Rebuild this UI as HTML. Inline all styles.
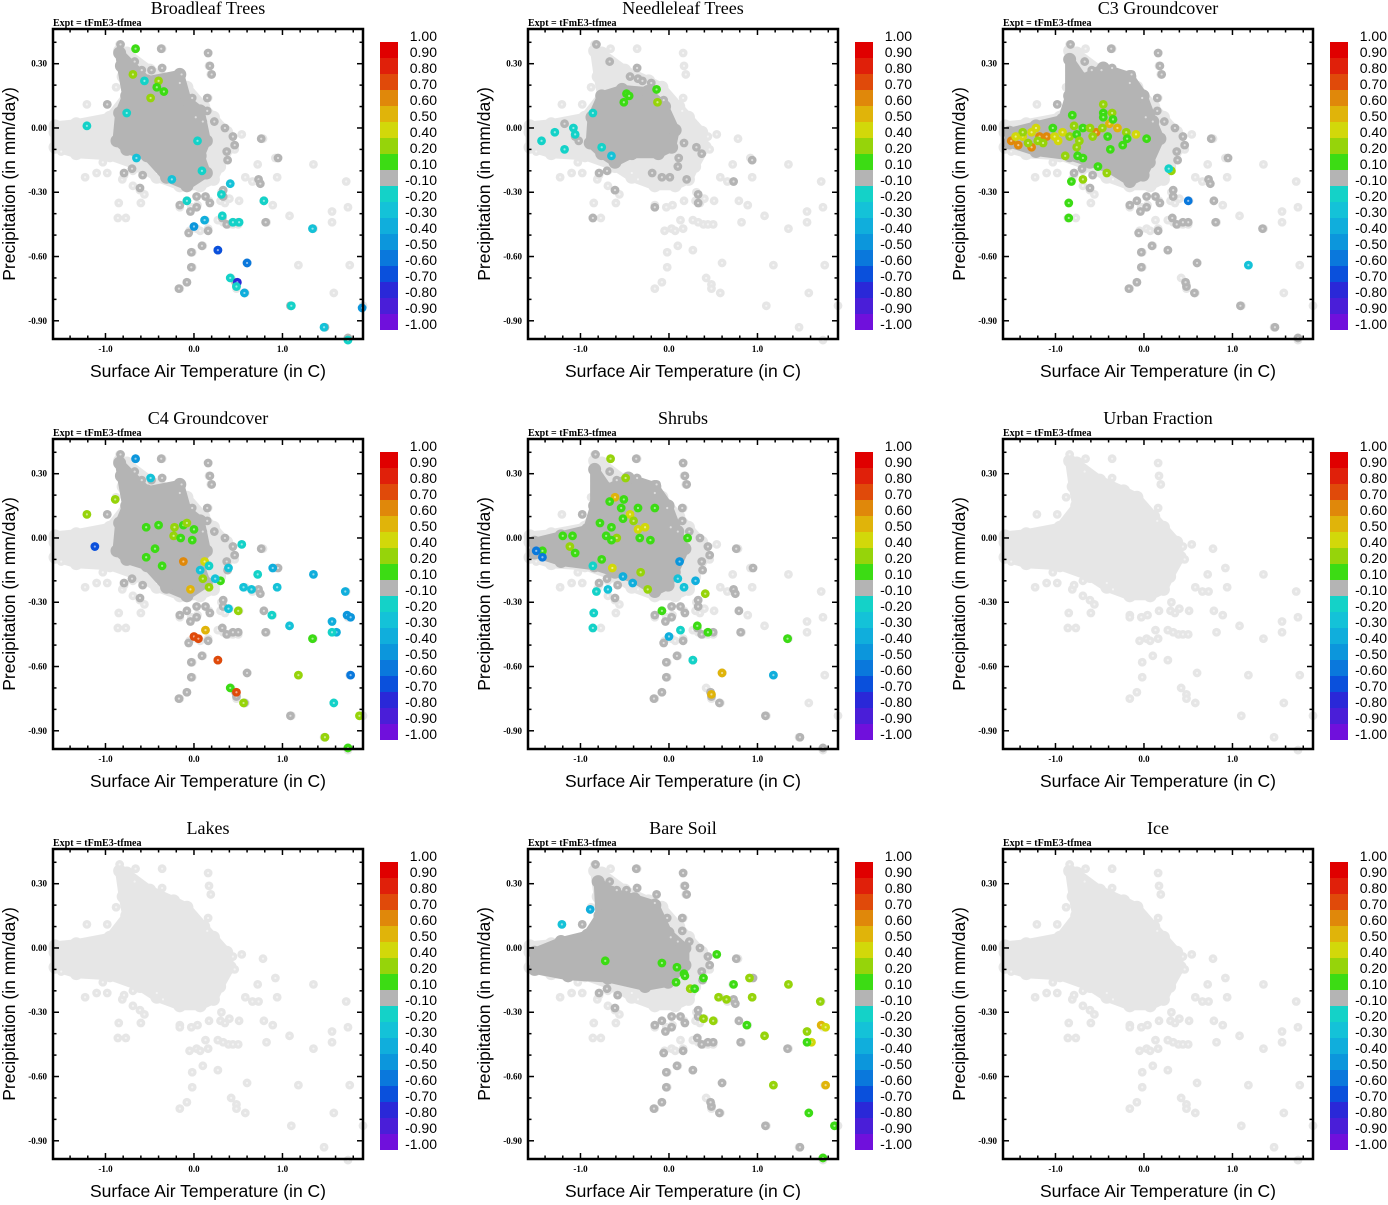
<!DOCTYPE html>
<html><head><meta charset="utf-8"><style>
html,body{margin:0;padding:0;background:#fff;}
svg text{font-family:"Liberation Sans",sans-serif;}
.serif{font-family:"Liberation Serif",serif !important;}
</style></head><body>
<svg id="fig" width="1388" height="1200" viewBox="0 0 1388 1200" xmlns="http://www.w3.org/2000/svg"></svg>
<script>
// ---------- DATA ----------
const titles = ["Broadleaf Trees","Needleleaf Trees","C3 Groundcover","C4 Groundcover","Shrubs","Urban Fraction","Lakes","Bare Soil","Ice"];
const xTicks = [-1.0, 0.0, 1.0];
const xTickLabels = ["-1.0","0.0","1.0"];
const yTicks = [0.30, 0.00, -0.30, -0.60, -0.90];
const yTickLabels = ["0.30","0.00","-0.30","-0.60","-0.90"];
const cbLevels = [1.00,0.90,0.80,0.70,0.60,0.50,0.40,0.20,0.10,-0.10,-0.20,-0.30,-0.40,-0.50,-0.60,-0.70,-0.80,-0.90,-1.00];
const cbLabels = ["1.00","0.90","0.80","0.70","0.60","0.50","0.40","0.20","0.10","-0.10","-0.20","-0.30","-0.40","-0.50","-0.60","-0.70","-0.80","-0.90","-1.00"];
const cbColors = ["#e00000","#e0200a","#e04a0a","#e0880a","#e0b40a","#d2d80a","#96d40a","#3cdc14","#b4b4b4","#14d2c8","#14c2d8","#10aedc","#0c96dc","#0a78dc","#0a50dc","#2a28d8","#4a1ed8","#7010dc"];

// light cloud (all points)
const lightCore = [[-1.57,-0.02],[-1.57,-0.09],[-1.33,-0.12],[-0.95,-0.13],[-0.61,-0.18],[-0.42,-0.23],[-0.16,-0.27],[0.07,-0.27],[0.22,-0.24],[0.29,-0.18],[0.41,-0.09],[0.37,-0.02],[0.22,0.05],[0.11,0.10],[-0.08,0.19],[-0.23,0.22],[-0.50,0.27],[-0.76,0.35],[-0.84,0.36],[-0.80,0.24],[-0.76,0.15],[-0.95,0.05],[-1.33,0.02],[-1.57,0.01]];
const lightX = [-0.84,-0.66,-0.36,-0.67,-0.36,0.16,0.17,0.19,0.16,0.15,-0.88,-1.21,-0.98,0.78,0.54,0.44,0.46,0.72,0.92,0.94,1.35,1.72,1.74,1.56,1.56,1.08,1.35,0.82,0.79,0.89,0.51,0.58,0.66,0.73,1.18,1.76,1.58,1.10,1.91,1.47,1.74,0.60,0.58,0.42,0.48,0.48,0.27,0.10,-0.02,-0.02,-0.08,-0.16,-0.05,0.03,0.07,0.16,0.13,0.27,0.33,0.39,0.44,0.50,-0.03,0.04,-0.16,-0.16,0.17,0.30,0.31,0.35,0.40,-0.85,-0.60,-0.86,-0.77,-1.23,-1.10,-0.98,-1.03,-1.50,-0.81,-0.79,-0.69,-0.69,-0.61,-0.56,-0.42,-0.35];
const lightY = [0.39,0.37,0.37,0.31,0.28,0.35,0.29,0.25,0.14,0.08,0.19,0.11,0.11,-0.05,-0.03,-0.04,-0.10,-0.17,-0.14,-0.23,-0.17,-0.25,-0.37,-0.39,-0.44,-0.41,-0.47,-0.44,-0.34,-0.36,-0.34,-0.23,-0.25,-0.25,-0.64,-0.64,-0.77,-0.83,-0.83,-0.93,-0.99,-0.63,-0.77,-0.70,-0.73,-0.75,-0.57,-0.55,-0.58,-0.65,-0.72,-0.75,-0.48,-0.47,-0.48,-0.47,-0.43,-0.43,-0.44,-0.45,-0.45,-0.45,-0.37,-0.36,-0.36,-0.37,-0.34,-0.34,-0.30,-0.35,-0.33,-0.35,-0.35,-0.42,-0.42,-0.23,-0.21,-0.21,-0.16,-0.11,-0.24,-0.22,-0.20,-0.27,-0.29,-0.31,-0.21,-0.24];

// dark (non-zero fraction) regions
const polyBroad = [[-0.84,0.35],[-0.53,0.22],[-0.16,0.25],[-0.08,0.13],[0.07,0.08],[0.14,-0.06],[0.07,-0.13],[0.14,-0.21],[-0.08,-0.27],[-0.31,-0.23],[-0.53,-0.13],[-0.76,-0.10],[-0.87,-0.06],[-0.84,0.07],[-0.76,0.15],[-0.82,0.29]];
const polyNeedle = [[-0.87,0.05],[-0.76,0.15],[-0.53,0.18],[-0.24,0.17],[-0.05,0.10],[0.07,-0.01],[0.03,-0.09],[-0.12,-0.12],[-0.42,-0.12],[-0.61,-0.16],[-0.76,-0.12],[-0.89,-0.07]];
const polyC3 = [[-0.84,0.32],[-0.69,0.23],[-0.46,0.28],[-0.16,0.24],[-0.01,0.15],[0.10,0.03],[0.18,-0.05],[0.06,-0.16],[-0.01,-0.22],[-0.16,-0.25],[-0.39,-0.19],[-0.61,-0.16],[-0.84,-0.13],[-1.22,-0.11],[-1.52,-0.07],[-1.52,-0.02],[-1.22,0.01],[-0.92,0.04],[-0.84,0.15]];
const polyBare = [[-1.52,-0.02],[-1.22,0.03],[-0.92,0.06],[-0.78,0.15],[-0.80,0.31],[-0.65,0.26],[-0.39,0.23],[-0.16,0.20],[-0.01,0.07],[0.18,0.00],[0.18,-0.08],[-0.01,-0.16],[-0.27,-0.18],[-0.69,-0.14],[-1.14,-0.13],[-1.52,-0.10]];
const darkX = [-0.83,-0.37,0.16,0.18,0.20,-0.67,-0.59,-0.48,-0.36,-0.98,0.15,0.23,0.35,0.44,0.46,0.76,0.37,0.38,0.73,0.75,0.79,0.81,0.95,0.50,0.44,0.37,0.32,0.33,0.33,0.18,0.13,0.03,-0.08,-0.16,-0.04,0.03,-0.06,0.16,0.09,-0.03,-0.03,-0.08,-0.17,0.27,0.60,0.48,0.47,0.57,1.09,1.48,1.74,1.34,-0.61,-0.79,-0.70,-0.58,-0.14,-0.16,-0.02,0.15,0.02,0.10];
const darkY = [0.39,0.37,0.35,0.29,0.25,0.31,0.27,0.27,0.28,0.11,0.08,0.03,0.00,-0.04,-0.08,-0.05,-0.11,-0.15,-0.24,-0.26,-0.34,-0.44,-0.14,-0.44,-0.44,-0.45,-0.42,-0.29,-0.32,-0.35,-0.32,-0.32,-0.34,-0.36,-0.39,-0.37,-0.49,-0.48,-0.55,-0.58,-0.65,-0.72,-0.75,-0.57,-0.63,-0.74,-0.72,-0.77,-0.83,-0.93,-0.98,-0.47,-0.28,-0.21,-0.19,-0.22,0.25,0.21,0.14,0.14,0.05,0.03];
const darkNeedleX = [-0.82,-0.67,-0.36,-0.44,-0.35,-0.30,-0.20,-0.06,-1.18,-1.06,-1.02,-0.79,-0.70,-0.61,-0.86,-0.19,-0.08,0.01,0.10,0.17,0.11,0.20,0.33,0.33,-0.16,0.31,0.37,0.73,0.94];
const darkNeedleY = [0.39,0.31,0.28,0.24,0.23,0.22,0.21,0.13,0.02,-0.04,-0.06,-0.21,-0.20,-0.29,-0.42,-0.21,-0.23,-0.23,-0.18,-0.07,-0.14,-0.24,-0.31,-0.35,-0.37,-0.09,-0.12,-0.25,-0.15];

// coloured points per panel: x, y, value
const colBroadX = [-0.66,-0.69,-0.40,-0.42,-0.34,-0.49,-0.56,-1.21,-0.76,0.04,-0.65,-0.25,0.09,0.41,0.31,-0.08,0.79,0.32,0.12,0.00,0.44,0.51,1.34,0.27,0.60,0.41,0.49,0.48,0.57,1.10,1.90,1.47,1.74];
const colBroadY = [0.37,0.25,0.22,0.19,0.17,0.14,0.22,0.01,0.07,-0.06,-0.14,-0.24,-0.20,-0.26,-0.31,-0.34,-0.34,-0.41,-0.43,-0.46,-0.44,-0.44,-0.47,-0.57,-0.63,-0.70,-0.72,-0.74,-0.77,-0.83,-0.84,-0.93,-0.99];
const colBroadV = [0.15,0.3,0.3,0.15,0.15,0.3,-0.15,-0.15,-0.15,-0.15,-0.25,-0.25,-0.15,-0.25,-0.15,-0.15,-0.15,-0.15,-0.35,-0.45,-0.15,-0.15,-0.25,-0.65,-0.55,-0.15,-0.75,-0.15,-0.35,-0.15,-0.45,-0.25,-0.15];
const colNeedleX = [-0.48,-0.45,-0.51,-0.14,-0.13,-1.44,-1.29,-1.18,-1.08,-1.06,-0.86,-0.76,-0.65];
const colNeedleY = [0.16,0.15,0.12,0.18,0.12,-0.06,-0.02,-0.10,0.00,-0.03,0.07,-0.09,-0.13];
const colNeedleV = [0.15,0.15,0.15,0.15,0.3,-0.15,-0.15,-0.15,-0.15,-0.15,-0.15,-0.15,-0.25];
const colC3X = [-1.50,-1.42,-1.37,-1.27,-1.27,-1.18,-1.10,-1.01,-0.92,-0.97,-1.14,-1.31,-1.03,-1.22,-1.37,-0.84,-0.54,-0.30,-0.39,-0.09,-0.20,-0.81,-0.79,-0.69,-0.61,-0.47,-0.76,-0.73,-0.76,-0.89,-0.75,-0.69,-0.58,-0.41,-0.46,-0.46,-0.46,-0.36,-0.35,-0.24,-0.19,0.03,-0.38,-0.52,-0.42,-0.82,-0.69,-0.85,-0.85,0.31,0.28,0.50,1.18,-1.45,-1.20];
const colC3Y = [-0.06,-0.08,-0.04,-0.02,-0.09,-0.04,-0.04,-0.04,-0.02,-0.06,-0.07,-0.07,0.00,0.00,-0.02,-0.04,-0.02,0.00,0.02,-0.03,-0.02,0.06,0.01,0.00,0.00,0.00,-0.03,-0.06,-0.09,-0.13,-0.13,-0.14,-0.04,-0.04,0.11,0.07,0.05,0.07,0.04,-0.08,-0.05,-0.05,-0.10,-0.18,-0.21,-0.25,-0.24,-0.35,-0.42,-0.20,-0.19,-0.34,-0.64,-0.04,-0.06];
const colC3V = [0.65,0.65,0.45,0.45,0.65,0.65,0.65,0.45,0.45,0.45,0.3,0.3,0.15,0.45,0.3,0.3,0.65,0.55,0.55,0.45,0.3,0.15,0.3,0.15,0.3,0.3,0.15,0.3,0.3,0.3,0.15,0.15,0.3,0.15,0.3,0.15,0.15,0.3,0.15,0.15,0.15,0.15,0.15,0.15,0.3,0.15,0.3,0.15,0.15,0.3,-0.15,-0.55,-0.25,0.45,0.3];
const colC4X = [-0.66,-0.49,-0.89,-1.21,-1.12,-0.54,-0.40,-0.22,-0.23,-0.12,-0.08,0.00,-0.15,-0.02,-0.44,-0.54,-0.36,-0.12,0.12,0.17,0.07,0.10,0.17,0.30,0.24,-0.04,0.54,0.39,0.56,0.65,0.72,0.89,0.94,1.35,1.71,0.39,0.50,0.88,1.08,1.56,1.61,1.56,1.73,1.77,1.34,0.13,0.00,0.05,0.27,1.18,1.77,0.41,0.48,0.56,1.58,1.48,1.87,1.74];
const colC4Y = [0.37,0.28,0.18,0.11,-0.04,0.05,0.06,0.05,0.01,0.06,0.07,0.04,0.00,-0.01,-0.05,-0.09,-0.13,-0.11,-0.11,-0.13,-0.15,-0.19,-0.23,-0.20,-0.19,-0.24,-0.03,-0.14,-0.23,-0.24,-0.17,-0.14,-0.23,-0.17,-0.25,-0.33,-0.34,-0.36,-0.41,-0.39,-0.44,-0.44,-0.36,-0.37,-0.47,-0.43,-0.46,-0.47,-0.57,-0.64,-0.64,-0.70,-0.72,-0.77,-0.77,-0.93,-0.83,-0.98];
const colC4V = [-0.45,-0.25,0.3,0.3,-0.65,0.15,0.15,0.3,0.3,0.15,0.3,0.15,0.15,0.15,0.15,0.15,0.15,0.65,0.45,-0.15,-0.25,0.3,0.3,0.15,-0.25,0.55,-0.15,-0.25,-0.25,-0.25,-0.15,-0.35,-0.25,-0.35,-0.35,-0.25,0.3,-0.15,-0.25,-0.35,-0.35,-0.15,-0.45,-0.45,0.15,0.55,0.75,0.75,0.75,0.3,-0.55,0.15,0.75,0.3,-0.15,0.3,0.3,0.15];
const colShrubX = [-0.66,-0.49,-0.61,-0.67,-0.51,-0.54,-0.35,-0.44,-0.52,-0.40,-0.65,-0.78,-0.35,-0.27,-0.33,-0.21,-0.59,-0.71,-0.65,-0.16,0.21,-1.20,-1.09,-1.12,-1.06,-1.43,-1.50,-1.43,-0.86,-0.76,-0.64,0.12,-0.32,-0.41,-0.52,-0.24,-0.69,-0.82,0.10,0.17,0.30,0.41,-0.08,-0.85,-0.86,0.13,0.32,0.44,0.00,1.34,0.27,0.60,1.18,0.48];
const colShrubY = [0.37,0.28,0.19,0.17,0.18,0.14,0.14,0.11,0.09,0.08,0.05,0.07,0.04,0.05,0.00,-0.01,0.00,0.01,-0.01,0.14,0.00,0.01,0.01,-0.04,-0.07,-0.06,-0.06,-0.09,-0.13,-0.10,-0.14,-0.11,-0.16,-0.21,-0.18,-0.24,-0.24,-0.25,-0.19,-0.23,-0.20,-0.26,-0.34,-0.35,-0.42,-0.43,-0.41,-0.44,-0.46,-0.47,-0.57,-0.63,-0.64,-0.73];
const colShrubV = [0.3,0.3,0.55,0.15,0.15,0.15,0.15,0.45,0.15,0.3,0.15,0.15,0.45,0.45,0.15,0.15,0.3,0.15,0.15,0.15,0.15,0.15,0.15,0.3,0.15,0.15,-0.55,-0.55,-0.15,0.15,0.45,-0.45,0.3,-0.35,-0.35,0.3,-0.25,-0.15,-0.25,-0.25,-0.35,0.3,0.15,-0.15,-0.15,-0.15,0.15,0.15,-0.35,0.15,-0.15,0.55,-0.35,0.55];
const colBareX = [-0.89,-1.21,-0.72,-0.08,0.54,0.09,0.17,0.18,0.08,0.39,0.24,0.29,0.73,0.91,0.94,1.35,0.56,0.65,1.71,0.39,0.50,0.88,1.08,1.56,1.72,1.77,1.61,1.56,1.18,1.77,1.58,1.87,1.74];
const colBareY = [0.18,0.11,-0.06,-0.07,-0.03,-0.09,-0.12,-0.13,-0.16,-0.14,-0.19,-0.19,-0.17,-0.14,-0.23,-0.17,-0.23,-0.24,-0.25,-0.33,-0.34,-0.36,-0.41,-0.39,-0.36,-0.37,-0.44,-0.44,-0.64,-0.64,-0.77,-0.83,-0.98];
const colBareV = [-0.35,-0.25,0.15,0.15,0.15,0.15,0.15,0.15,0.15,0.15,0.3,0.15,0.15,0.3,0.3,0.3,0.3,0.3,0.3,0.3,0.3,0.15,0.3,0.3,0.55,0.45,0.45,0.15,0.3,0.55,0.15,0.15,0.15];

// ---------- RENDERING ----------
const NS = "http://www.w3.org/2000/svg";
const svg = document.getElementById('fig');
const XMIN = -1.593, XMAX = 1.91, YMIN = -0.985, YMAX = 0.462;
const PL = 53, PT = 29, PW = 310, PH = 310;
const LIGHT = "#e6e6e6", DARK = "#b4b4b4";
function el(tag, attrs, parent) {
  const e = document.createElementNS(NS, tag);
  for (const k in attrs) e.setAttribute(k, attrs[k]);
  (parent || svg).appendChild(e);
  return e;
}
function xs(v){ return PL + (v - XMIN) / (XMAX - XMIN) * PW; }
function ys(v){ return PT + (YMAX - v) / (YMAX - YMIN) * PH; }
function colorFor(v){
  for (let i = 1; i < cbLevels.length; i++) if (v >= cbLevels[i]) return cbColors[i-1];
  return cbColors[cbColors.length-1];
}
function polyPath(pts){ return pts.map((p,i)=>(i?'L':'M')+xs(p[0]).toFixed(1)+' '+ys(p[1]).toFixed(1)).join(' ')+' Z'; }
function dot(g, x, y, c, name){
  const d = el('g', {}, g);
  
  
  el('circle', {cx: xs(x), cy: ys(y), r: 4.4, fill: c}, d);
  el('circle', {cx: xs(x), cy: ys(y), r: 1.1, fill: '#fff', 'fill-opacity': 0.55}, d);
}
function region(g, pts, c){
  el('path', {d: polyPath(pts), fill: c, stroke: c, 'stroke-width': 9, 'stroke-linejoin': 'round'}, g);
  pts.forEach(p => el('circle', {cx: xs(p[0]), cy: ys(p[1]), r: 6.5, fill: c}, g));
}
const panels = [
  {dp: polyBroad, dx: darkX, dy: darkY, cx: colBroadX, cy: colBroadY, cv: colBroadV},
  {dp: polyNeedle, dx: darkNeedleX, dy: darkNeedleY, cx: colNeedleX, cy: colNeedleY, cv: colNeedleV},
  {dp: polyC3, dx: darkX, dy: darkY, cx: colC3X, cy: colC3Y, cv: colC3V},
  {dp: polyBroad, dx: darkX, dy: darkY, cx: colC4X, cy: colC4Y, cv: colC4V},
  {dp: polyC3, dx: darkX, dy: darkY, cx: colShrubX, cy: colShrubY, cv: colShrubV},
  null, null,
  {dp: polyBare, dx: darkX, dy: darkY, cx: colBareX, cy: colBareY, cv: colBareV},
  null
];
titles.forEach((t, i) => {
  const ox = (i % 3) * 475, oy = Math.floor(i / 3) * 410;
  const g = el('g', {transform: `translate(${ox},${oy})`});
  const slug = t.toLowerCase().replace(/[^a-z0-9]+/g,'-');
  
  
  const tt = el('text', {x: 208, y: 14, 'text-anchor': 'middle', 'font-size': 18, class: 'serif'}, g);
  tt.textContent = t;
  
  
  const ex = el('text', {x: 53, y: 26, 'font-size': 10, 'font-weight': 'bold', class: 'serif'}, g);
  ex.textContent = 'Expt = tFmE3-tfmea';
  
  
  const pg = el('g', {}, g);
  
  
  region(pg, lightCore, LIGHT);
  lightX.forEach((x, k) => dot(pg, x, lightY[k], LIGHT, 'point-light'));
  const p = panels[i];
  if (p) {
    region(pg, p.dp, DARK);
    p.dx.forEach((x, k) => dot(pg, x, p.dy[k], DARK, 'point-dark'));
    p.cx.forEach((x, k) => dot(pg, x, p.cy[k], colorFor(p.cv[k]), 'point-colored'));
  }
  const fr = el('rect', {x: PL, y: PT, width: PW, height: PH, fill: 'none', stroke: '#000', 'stroke-width': 2.5}, g);
  
  
  const tg = el('g', {stroke: '#000', 'stroke-width': 1.5}, g);
  
  
  for (let v = -1.4; v <= 1.81; v += 0.2) {
    const major = Math.abs(Math.round(v*10) % 10) === 0;
    const L = major ? 6 : 3.5, X = xs(v);
    el('line', {x1: X, y1: PT+PH, x2: X, y2: PT+PH-L}, tg);
    el('line', {x1: X, y1: PT, x2: X, y2: PT+L}, tg);
  }
  for (let v = -0.9; v <= 0.41; v += 0.1) {
    const major = Math.abs(Math.round(v*10) % 3) === 0;
    const L = major ? 6 : 3.5, Y = ys(v);
    el('line', {x1: PL, y1: Y, x2: PL+L, y2: Y}, tg);
    el('line', {x1: PL+PW, y1: Y, x2: PL+PW-L, y2: Y}, tg);
  }
  xTicks.forEach((v, k) => {
    const tx = el('text', {x: xs(v), y: 352, 'text-anchor': 'middle', 'font-size': 9, 'font-weight': 'bold', class: 'serif'}, g);
    tx.textContent = xTickLabels[k];
    
    
  });
  yTicks.forEach((v, k) => {
    const ty = el('text', {x: 47, y: ys(v) + 3, 'text-anchor': 'end', 'font-size': 9, 'font-weight': 'bold', class: 'serif'}, g);
    ty.textContent = yTickLabels[k];
    
    
  });
  const xt = el('text', {x: 208, y: 377, 'text-anchor': 'middle', 'font-size': 17.5}, g);
  xt.textContent = 'Surface Air Temperature (in C)';
  
  
  const yt = el('text', {x: 0, y: 0, 'text-anchor': 'middle', 'font-size': 17.5, transform: 'translate(15,184) rotate(-90)'}, g);
  yt.textContent = 'Precipitation (in mm/day)';
  
  
  const cb = el('g', {}, g);
  
  
  cbColors.forEach((c, k) => {
    const r = el('rect', {x: 380, y: 42 + k*16, width: 18, height: 16, fill: c}, cb);
    
    
  });
  cbLabels.forEach((s, k) => {
    const lt = el('text', {x: 437, y: 41 + k*16, 'text-anchor': 'end', 'font-size': 14}, cb);
    lt.textContent = s;
    
    
  });
});
</script>
</body></html>
